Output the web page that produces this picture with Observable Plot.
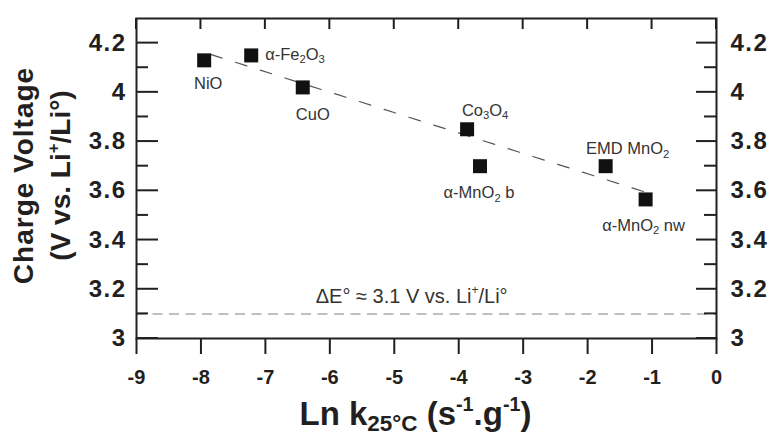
<!DOCTYPE html>
<html><head><meta charset="utf-8">
<script src="https://cdn.jsdelivr.net/npm/d3@7"></script>
<script src="https://cdn.jsdelivr.net/npm/@observablehq/plot@0.6"></script>
<style>body{margin:0;background:#fff}</style>
</head><body><div id="chart"></div>
<script>
// ---- data ----
const names = ["NiO", "α-Fe_{2}O_{3}", "CuO", "Co_{3}O_{4}", "α-MnO_{2} b", "EMD MnO_{2}", "α-MnO_{2} nw"];
const lnK = [-7.95, -7.22, -6.42, -3.87, -3.67, -1.72, -1.10];
const voltage = [4.13, 4.15, 4.02, 3.85, 3.70, 3.70, 3.565];
const fitX = [-7.85, -1.13];
const fitY = [4.154, 3.597];
const refVoltage = 3.1;
const refLabel = "ΔE° ≈ 3.1 V vs. Li^{+}/Li°";
const refLabelX = -4.73;
const xTicks = [-9, -8, -7, -6, -5, -4, -3, -2, -1, 0];
const yMajor = [3, 3.2, 3.4, 3.6, 3.8, 4, 4.2];
const yMinor = [3.1, 3.3, 3.5, 3.7, 3.9, 4.1];
const xDomain = [-9, 0];
const yDomain = [3, 4.3];
const yTitle = ["Charge Voltage", "(V vs. Li^{+}/Li°)"];
const xTitle = "Ln k_{25°C} (s^{-1}.g^{-1})";

// ---- layout ----
const W = 771, H = 437, mL = 136, mR = 55, mT = 18, mB = 99;
const labelPlacement = [
  {dx: 4, dy: 23, anchor: "middle"},
  {dx: 14, dy: -1, anchor: "start"},
  {dx: 10, dy: 27, anchor: "middle"},
  {dx: 18, dy: -19, anchor: "middle"},
  {dx: -1, dy: 27, anchor: "middle"},
  {dx: 22, dy: -17, anchor: "middle"},
  {dx: -2, dy: 26, anchor: "middle"}
];

const points = names.map((n, i) => ({name: n, x: lnK[i], y: voltage[i]}));
const fit = fitX.map((x, i) => ({x, y: fitY[i]}));
const ink = "#231f20";
const fmt = d => String(d);
const id = d => d;

const labelMarks = points.map((p, i) => Plot.text([p], {
  x: "x", y: "y", text: "name", dx: labelPlacement[i].dx, dy: labelPlacement[i].dy,
  textAnchor: labelPlacement[i].anchor, lineAnchor: "middle", fontSize: 16.5, fill: "#333"
}));

const chart = Plot.plot({
  width: W, height: H,
  marginLeft: mL, marginRight: mR, marginTop: mT, marginBottom: mB,
  style: {fontFamily: "'Liberation Sans', Arial, sans-serif"},
  x: {domain: xDomain},
  y: {domain: yDomain},
  marks: [
    Plot.ruleY([refVoltage], {stroke: "#aaa", strokeWidth: 1.5, strokeDasharray: "10,6.5"}),
    Plot.text([{x: refLabelX, y: refVoltage, t: refLabel}], {x: "x", y: "y", text: "t", dy: -11, lineAnchor: "bottom", textAnchor: "middle", fontSize: 20, fill: "#333"}),
    Plot.line(fit, {x: "x", y: "y", stroke: "#555", strokeWidth: 1.2, strokeDasharray: "12,14"}),
    Plot.dot(points, {x: "x", y: "y", symbol: "square", r: 7.9, fill: "#111", stroke: "none"}),
    ...labelMarks,
    Plot.axisX({anchor: "bottom", ticks: xTicks, tickSize: 16, tickPadding: 15, tickFormat: fmt, fontSize: 20, fontWeight: "bold", stroke: ink, fill: ink, strokeWidth: 2, label: null}),
    Plot.axisY({anchor: "left", ticks: yMajor, tickSize: 0, tickPadding: 10, tickFormat: fmt, fontSize: 24, fontWeight: "bold", fill: ink, label: null}),
    Plot.axisY({anchor: "right", ticks: yMajor, tickSize: 0, tickPadding: 14, tickFormat: fmt, fontSize: 24, fontWeight: "bold", fill: ink, label: null}),
    Plot.frame({stroke: ink, strokeWidth: 2}),
    Plot.text([xTitle], {frameAnchor: "bottom", text: id, dx: -11, dy: 86, lineAnchor: "bottom", textAnchor: "middle", fontSize: 33, fontWeight: "bold", fill: ink}),
    Plot.text([yTitle[0]], {frameAnchor: "left", text: id, dx: -112, dy: -3, rotate: -90, lineAnchor: "middle", textAnchor: "middle", fontSize: 28, fontWeight: "bold", fill: ink}),
    Plot.text([yTitle[1]], {frameAnchor: "left", text: id, dx: -75, dy: -3, rotate: -90, lineAnchor: "middle", textAnchor: "middle", fontSize: 28, fontWeight: "bold", fill: ink})
  ]
});

document.getElementById("chart").appendChild(chart);

// inward ticks on top, left and right, positioned through Plot's own scales
try {
  const sx = chart.scale("x"), sy = chart.scale("y");
  const left = sx.apply(xDomain[0]), right = sx.apply(xDomain[1]), top = sy.apply(yDomain[1]);
  const g = d3.select(chart).append("g").attr("aria-label", "inner ticks")
    .attr("stroke", ink).attr("stroke-width", 2);
  const seg = (x1, y1, x2, y2) => g.append("line").attr("x1", x1).attr("y1", y1).attr("x2", x2).attr("y2", y2);
  xTicks.forEach(v => { const x = sx.apply(v); seg(x, top, x, top + 11); });
  yMajor.forEach(v => { const y = sy.apply(v); seg(left, y, left + 22, y); seg(right - 20, y, right, y); });
  yMinor.forEach(v => { const y = sy.apply(v); seg(left, y, left + 12, y); seg(right - 12, y, right, y); });
} catch (e) {}

// rich text: _{sub} and ^{sup}
function rich(svg) {
  svg.querySelectorAll("text").forEach(t => {
    const s = t.textContent;
    if (!/[_^]\{/.test(s)) return;
    const fs = parseFloat(getComputedStyle(t).fontSize) || 16;
    while (t.firstChild) t.removeChild(t.firstChild);
    const re = /([_^])\{([^}]*)\}/g;
    let last = 0, m, shift = 0;
    const add = (str, kind) => {
      if (!str) return;
      const ts = document.createElementNS("http://www.w3.org/2000/svg", "tspan");
      ts.textContent = str;
      const target = kind === "_" ? fs * 0.2 : kind === "^" ? -fs * 0.42 : 0;
      if (target !== shift) { ts.setAttribute("dy", (target - shift).toFixed(2)); shift = target; }
      if (kind) ts.setAttribute("font-size", (fs * (kind === "_" ? 0.68 : 0.6)).toFixed(2));
      t.appendChild(ts);
    };
    while ((m = re.exec(s))) { add(s.slice(last, m.index), null); add(m[2], m[1]); last = re.lastIndex; }
    add(s.slice(last), null);
  });
}
rich(chart);
chart.querySelectorAll('g[aria-label="y-axis tick label"] text').forEach(t => t.style.letterSpacing = "1.5px");
chart.querySelectorAll("text").forEach(t => { if (t.textContent === yTitle[0]) t.style.letterSpacing = "1px"; });
</script>
</body></html>
